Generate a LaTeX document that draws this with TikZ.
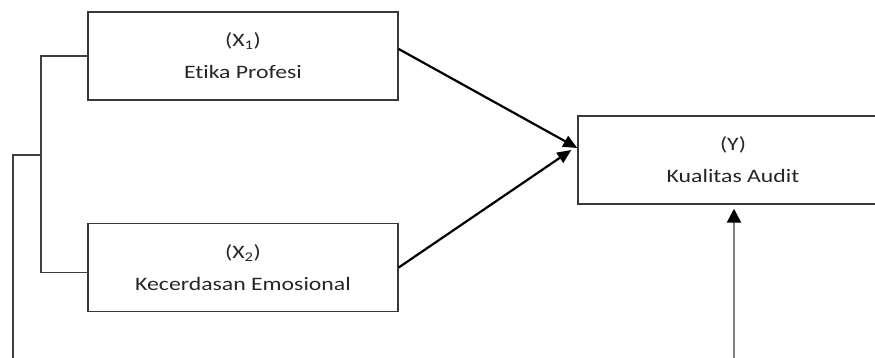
\documentclass[tikz,border=0pt]{standalone}
\usepackage{fontspec}
\setmainfont{Carlito}[FakeStretch=1.25,Ligatures=NoCommon]
\usetikzlibrary{positioning,arrows.meta}

\begin{document}
\begin{tikzpicture}[x=1pt,y=-1pt,node distance=211.5pt,on grid,
   var/.style={draw=black!78,line width=1.4pt,minimum width=310pt,minimum height=88pt,
               align=center,text=black!85,font=\fontsize{19}{32}\selectfont},
   link/.style={draw=black!75,line width=1.4pt},
   effect/.style={-{Triangle[length=14pt,width=12pt]},line width=2.2pt}]
   \useasboundingbox (0,0) rectangle (875,358);
   \clip (0,0) rectangle (875,358);

   \node[var] (x_1) at (243,56) {(X\textsubscript{1})\\Etika Profesi};
   \node[var] (x_2) [below=of x_1] {(X\textsubscript{2})\\Kecerdasan Emosional};
   \node[var] (y) at (733,160) {(Y)\\Kualitas Audit};

   \coordinate (fork) at (41,155);
   \coordinate (lb) at (13,362);
   \coordinate (z) at (734,362);

   \draw[link] (x_1.west) -| (fork) |- ([yshift=-5pt]x_2.west);
   \draw[link] (fork) -| (lb);
   \draw[effect] ([yshift=7pt]x_1.east) -- ([yshift=12pt]y.west);
   \draw[effect] (x_2.east) -- ([xshift=-6pt,yshift=10pt]y.west);
   \draw[effect,line width=2.6pt,draw=black!50,-{Triangle[length=14pt,width=14pt,color=black]}]
      (z) -- ([yshift=-4pt]y.south -| z);
\end{tikzpicture}
\end{document}
